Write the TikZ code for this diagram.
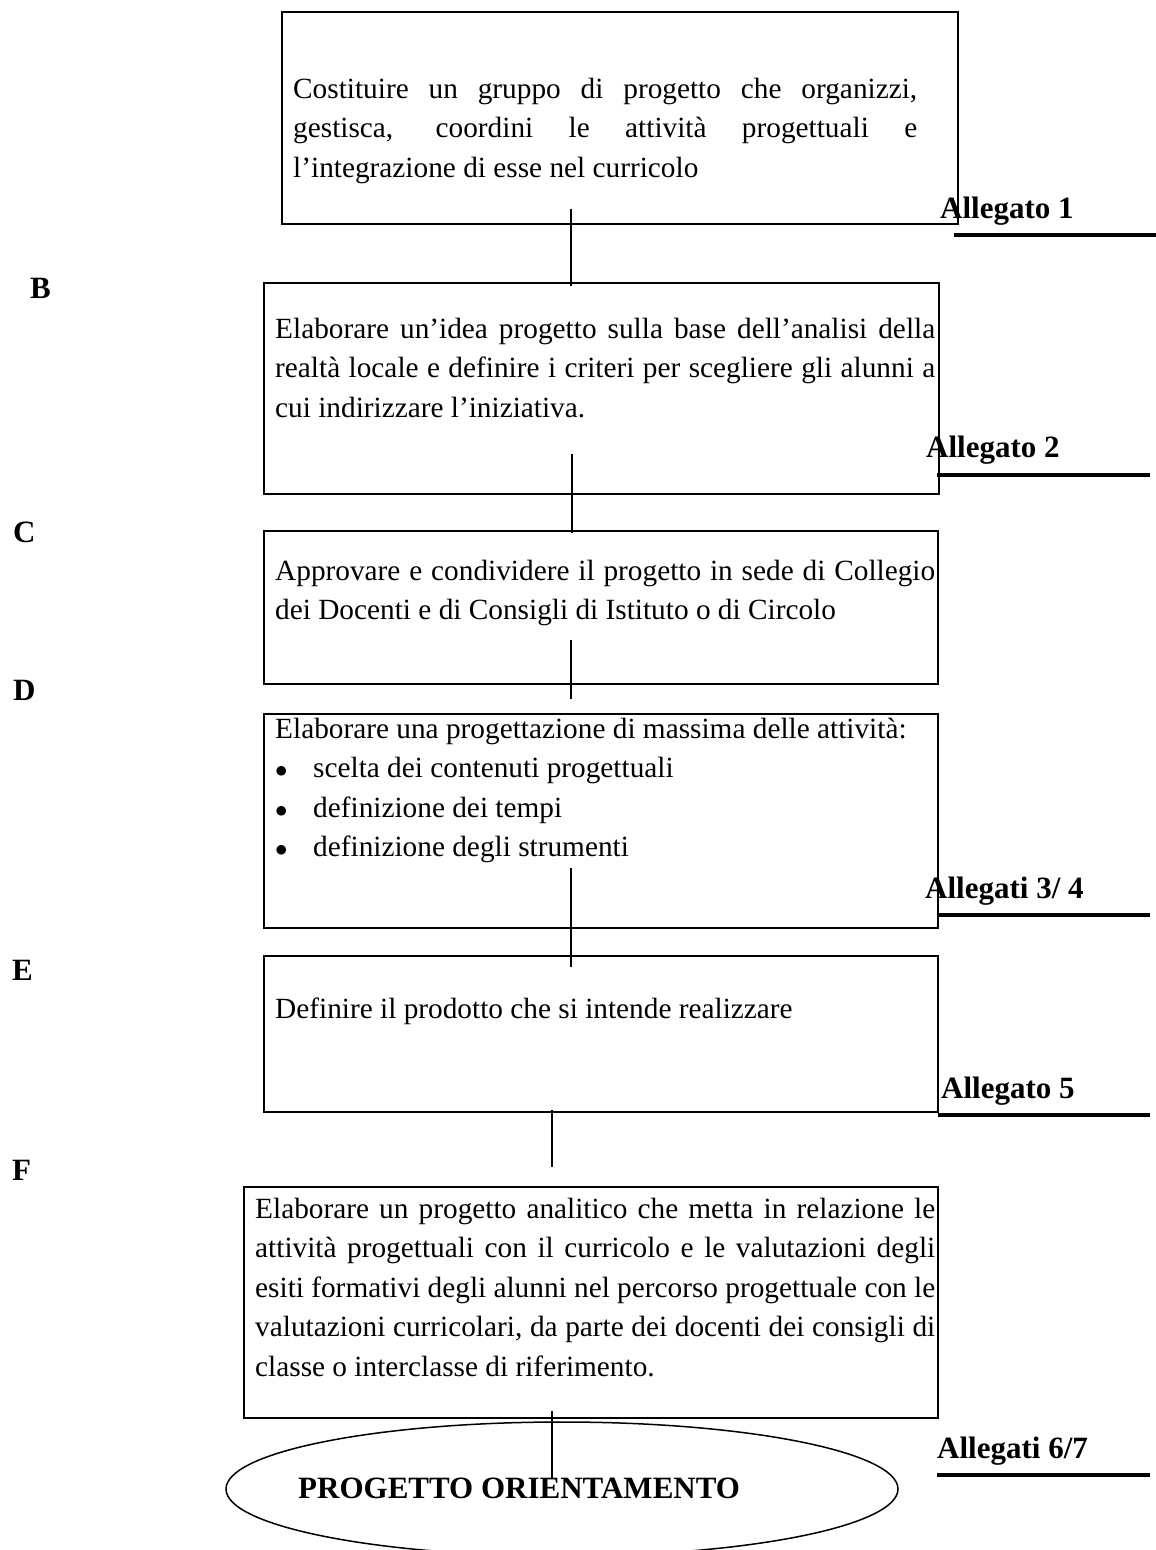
\documentclass[tikz,border=0pt]{standalone}
\usepackage{fontspec}
\setmainfont{Liberation Serif}
\usetikzlibrary{positioning,shapes.geometric}
\setlength{\parindent}{0pt}

% spazi naturali, riga giustificata e punto elenco
\newcommand{\testo}{\spaceskip=0pt\xspaceskip=0pt\strut}
\newcommand{\gline}[1]{\makebox[\linewidth][s]{#1}}
\newcommand{\punto}{\makebox[38pt][l]{$\bullet$}}

\tikzset{
  stepbox/.style={draw, line width=1.6pt, rectangle, inner sep=0pt, outer sep=0pt, anchor=north west},
  boxtext/.style={inner sep=0pt, align=left, font=\fontsize{29.3}{39.5}\selectfont},
  lettera/.style={anchor=base west, inner sep=0pt, font=\fontsize{31}{37}\selectfont\bfseries},
  link/.style={line width=1.3pt},
  rigo/.style={line width=3.5pt}
}

\begin{document}
\begin{tikzpicture}[x=1pt, y=-1pt]
        \useasboundingbox (0,0) rectangle (1156,1550);

        % Riquadri
        \node[stepbox, minimum width=676pt, minimum height=212pt] (boxA) at (282,12) {};
        \node[stepbox, minimum width=675pt, minimum height=211pt] (boxB) at (264,283) {};
        \node[stepbox, minimum width=674pt, minimum height=153pt] (boxC) at (264,531) {};
        \node[stepbox, minimum width=674pt, minimum height=214pt] (boxD) at (264,714) {};
        \node[stepbox, minimum width=674pt, minimum height=156pt] (boxE) at (264,956) {};
        \node[stepbox, minimum width=694pt, minimum height=231pt] (boxF) at (244,1187) {};

        % Testi
        \node[boxtext, text width=624pt, below right=58.35pt and 11pt of boxA.north west] (tA)
          {\testo\gline{Costituire un gruppo di progetto che organizzi,}\\
           \gline{gestisca, coordini le attività progettuali e}\\
           l’integrazione di esse nel curricolo};
        \node[boxtext, text width=660pt, below right=27.35pt and 11pt of boxB.north west] (tB)
          {\testo\gline{Elaborare un’idea progetto sulla base dell’analisi della}\\
           \gline{realtà locale e definire i criteri per scegliere gli alunni a}\\
           cui indirizzare l’iniziativa.};
        \node[boxtext, text width=660pt, below right=21.35pt and 11pt of boxC.north west] (tC)
          {\testo\gline{Approvare e condividere il progetto in sede di Collegio}\\
           dei Docenti e di Consigli di Istituto o di Circolo};
        \node[boxtext, text width=660pt, below right=-3.65pt and 11pt of boxD.north west] (tD)
          {\testo Elaborare una progettazione di massima delle attività:\\
           \punto scelta dei contenuti progettuali\\
           \punto definizione dei tempi\\
           \punto definizione degli strumenti};
        \node[boxtext, text width=660pt, below right=34.35pt and 11pt of boxE.north west] (tE)
          {\testo Definire il prodotto che si intende realizzare};
        \node[boxtext, text width=680pt, below right=3.35pt and 11pt of boxF.north west] (tF)
          {\testo\gline{Elaborare un progetto analitico che metta in relazione le}\\
           \gline{attività progettuali con il curricolo e le valutazioni degli}\\
           \gline{esiti formativi degli alunni nel percorso progettuale con le}\\
           \gline{valutazioni curricolari, da parte dei docenti dei consigli di}\\
           classe o interclasse di riferimento.};

        % Progetto finale
        \node[draw, ellipse, line width=1.5pt, minimum width=672pt, minimum height=134pt,
              inner sep=0pt, outer sep=0pt] (orient) at (562,1489) {};
        \node[lettera] (torient) at ([xshift=72pt, yshift=-9pt]orient.west) {PROGETTO ORIENTAMENTO};

        % Collegamenti
        \draw[link] ([xshift=289pt, yshift=15pt]boxA.south west) -- ([xshift=307pt, yshift=-3pt]boxB.north west);
        \draw[link] ([xshift=308pt, yshift=40pt]boxB.south west) -- ([xshift=308pt, yshift=-2pt]boxC.north west);
        \draw[link] ([xshift=307pt, yshift=44pt]boxC.south west) -- ([xshift=307pt, yshift=15pt]boxD.north west);
        \draw[link] ([xshift=307pt, yshift=60pt]boxD.south west) -- ([xshift=307pt, yshift=-11pt]boxE.north west);
        \draw[link] ([xshift=288pt, yshift=2pt]boxE.south west) -- ([xshift=308pt, yshift=20pt]boxF.north west);
        \draw[link] ([xshift=308pt, yshift=7pt]boxF.south west) -- ([xshift=-10pt, yshift=-56pt]orient.north);

        % Lettere
        \node[lettera] (letB) at (30,298) {B};
        \node[lettera] (letC) at (13,542) {C};
        \node[lettera] (letD) at (13,700) {D};
        \node[lettera] (letE) at (12,980) {E};
        \node[lettera] (letF) at (12,1180) {F};

        % Allegati
        \node[lettera] (all1) at (940,218) {Allegato 1};
        \draw[rigo] (954,235) -- (1156,235);
        \node[lettera] (all2) at (926,457) {Allegato 2};
        \draw[rigo] (937,475) -- (1150,475);
        \node[lettera] (all34) at (925,898) {Allegati 3/ 4};
        \draw[rigo] (938,915) -- (1150,915);
        \node[lettera] (all5) at (941,1098) {Allegato 5};
        \draw[rigo] (938,1115) -- (1150,1115);
        \node[lettera] (all67) at (937,1458) {Allegati 6/7};
        \draw[rigo] (937,1475) -- (1150,1475);

\end{tikzpicture}
\end{document}
